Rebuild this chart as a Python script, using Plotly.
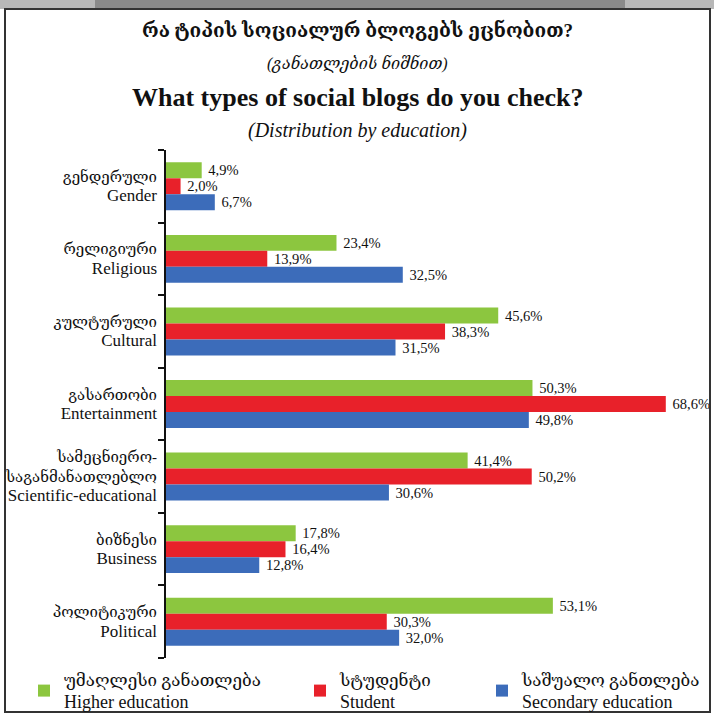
import plotly.graph_objects as go

cat_geo = ["გენდერული", "რელიგიური", "კულტურული", "გასართობი",
           "სამეცნიერო-<br>საგანმანათლებლო", "ბიზნესი", "პოლიტიკური"]
cat_eng = ["Gender", "Religious", "Cultural", "Entertainment",
           "Scientific-educational", "Business", "Political"]
higher = [4.9, 23.4, 45.6, 50.3, 41.4, 17.8, 53.1]
student = [2.0, 13.9, 38.3, 68.6, 50.2, 16.4, 30.3]
secondary = [6.7, 32.5, 31.5, 49.8, 30.6, 12.8, 32.0]
series_geo = ["უმაღლესი განათლება", "სტუდენტი", "საშუალო განთლება"]
series_eng = ["Higher education", "Student", "Secondary education"]
colors = ["#8CC63F", "#E8212A", "#3C6CBA"]

SERIF = "Liberation Serif, DejaVu Serif, serif"

def fmt(vals):
    return ["\u00a0" + f"{v:.1f}%".replace(".", ",") for v in vals]

ticktext = [f"{g}<br><span style='font-size:17px'>{e}</span>" for g, e in zip(cat_geo, cat_eng)]

W, H = 714, 717
L, R, T, B = 166, 38, 150, 59
pw, ph = W - L - R, H - T - B

def px(x):
    return (x - L) / pw

def py(y):
    return (H - B - y) / ph

legend_ids = ["legend", "legend2", "legend3"]
legend_x = [24, 300, 482]

fig = go.Figure()
for g, e, vals, col, lid in zip(series_geo, series_eng, [higher, student, secondary], colors, legend_ids):
    fig.add_trace(go.Bar(
        y=cat_eng, x=vals, orientation="h",
        name=f"{g}<br><span style='font-size:18px'>{e}</span>",
        legend=lid,
        marker=dict(color=col, line=dict(width=0)),
        text=fmt(vals), textposition="outside", cliponaxis=False,
        textfont=dict(family=SERIF, size=15.5, color="#111"),
    ))

annots = [
    dict(text="<b>რა ტიპის სოციალურ ბლოგებს ეცნობით?</b>", y=py(30), size=19),
    dict(text="<i>(განათლების ნიშნით)</i>", y=py(63), size=16),
    dict(text="<b>What types of social blogs do you check?</b>", y=py(98), size=26),
    dict(text="<i>(Distribution by education)</i>", y=py(130), size=20),
]
annotations = [
    dict(text=a["text"], x=px(357), y=a["y"], xref="paper", yref="paper",
         xanchor="center", yanchor="middle", showarrow=False,
         font=dict(family=SERIF, size=a["size"], color="#111"))
    for a in annots
]

shapes = [
    dict(type="rect", xref="paper", yref="paper", x0=px(0), x1=px(714), y0=py(9), y1=py(0),
         fillcolor="#b8b8b8", line=dict(width=0), layer="above"),
    dict(type="rect", xref="paper", yref="paper", x0=px(95), x1=px(625), y0=py(9), y1=py(0),
         fillcolor="#8a8a8a", line=dict(width=0), layer="above"),
    dict(type="rect", xref="paper", yref="paper", x0=px(5), x1=px(710), y0=py(712), y1=py(9),
         fillcolor="rgba(0,0,0,0)", line=dict(color="#333", width=2), layer="above"),
]

legend_common = dict(orientation="h", yanchor="top", y=py(662), xanchor="left",
                     font=dict(family=SERIF, size=17, color="#111"), itemwidth=30,
                     bgcolor="rgba(0,0,0,0)")

fig.update_layout(
    width=W, height=H,
    margin=dict(l=L, r=R, t=T, b=B, pad=0, autoexpand=False),
    paper_bgcolor="white", plot_bgcolor="white",
    barmode="group", bargap=0.34, bargroupgap=0,
    font=dict(family=SERIF, size=15, color="#111"),
    xaxis=dict(range=[0, 70], visible=False, showgrid=False, zeroline=False, automargin=False),
    yaxis=dict(autorange="reversed", type="category", showline=True, linecolor="#111",
               linewidth=2, ticks="outside", tickson="boundaries", ticklen=6,
               tickcolor="#111", tickwidth=2, showgrid=False, automargin=False,
               tickmode="array", tickvals=cat_eng, ticktext=ticktext,
               tickfont=dict(family=SERIF, size=15, color="#111"), ticklabelstandoff=4),
    legend=dict(legend_common, x=px(legend_x[0])),
    legend2=dict(legend_common, x=px(legend_x[1])),
    legend3=dict(legend_common, x=px(legend_x[2])),
    annotations=annotations,
    shapes=shapes,
    showlegend=True,
)

fig.write_html("out.html", post_script="document.body.style.margin='0px';",
               config={"displayModeBar": False})
